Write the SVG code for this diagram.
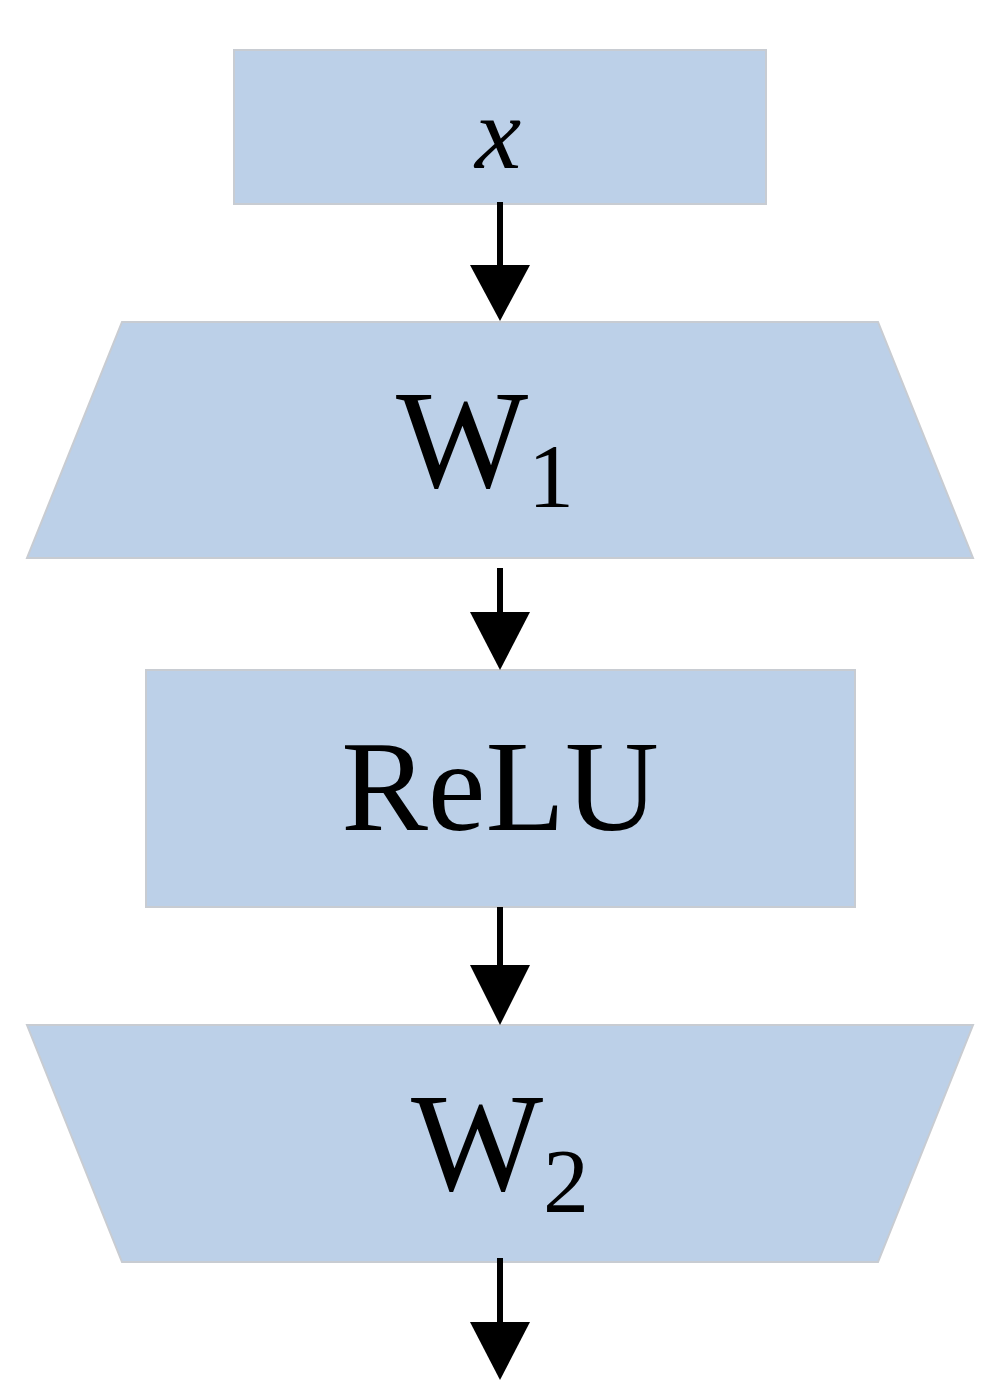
<svg xmlns="http://www.w3.org/2000/svg" width="1006" height="1381" viewBox="0 0 1006 1381">
<style>
.n{fill:#BCD0E8;stroke:#C8CCD2;stroke-width:2}
.t{font-family:"Liberation Serif",serif;fill:#000}
.c line{stroke:#000;stroke-width:6}
.c polygon{fill:#000}
</style>
<rect width="1006" height="1381" fill="#fff"/>
<g id="node-x"><rect class="n" x="234" y="50" width="532" height="154"/><text class="t" x="498" y="168" font-size="104" font-style="italic" text-anchor="middle">x</text></g>
<g id="node-w1"><polygon class="n" points="122,322 878,322 973,558 27,558"/><text class="t" x="485" y="487" font-size="140" text-anchor="middle">W<tspan font-size="92" dy="20">1</tspan></text></g>
<g id="node-relu"><rect class="n" x="146" y="670" width="709" height="237"/><text class="t" x="500" y="830" font-size="130" text-anchor="middle">ReLU</text></g>
<g id="node-w2"><polygon class="n" points="27,1025 973,1025 878,1262 122,1262"/><text class="t" x="500" y="1190" font-size="140" text-anchor="middle">W<tspan font-size="92" dy="22">2</tspan></text></g>
<g id="connectors" class="c">
<line x1="500" y1="202" x2="500" y2="268"/><polygon points="470,265 530,265 500,321"/>
<line x1="500" y1="568" x2="500" y2="615"/><polygon points="470,612 530,612 500,670"/>
<line x1="500" y1="907" x2="500" y2="968"/><polygon points="470,965 530,965 500,1025"/>
<line x1="500" y1="1258" x2="500" y2="1325"/><polygon points="470,1322 530,1322 500,1380"/>
</g>
</svg>
